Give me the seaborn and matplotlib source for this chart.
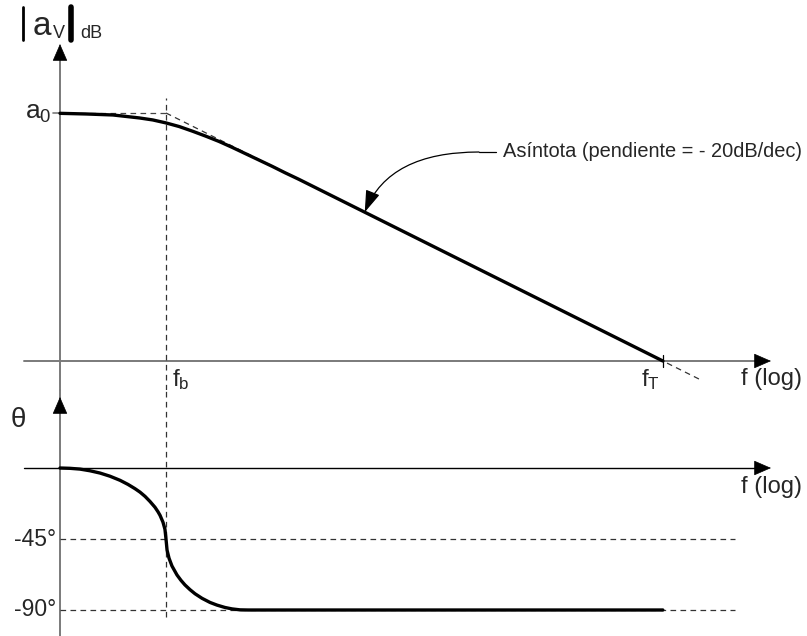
import numpy as np
import matplotlib
matplotlib.use("Agg")
import matplotlib.pyplot as plt
from matplotlib.lines import Line2D
import seaborn as sns

# ---------------- data ----------------
# x axis: log-frequency in decades measured from the break frequency f_b
FB = 0.0           # f_b
FT = 3.75          # f_T (unity-gain frequency)
A0 = 75.0          # a0, low-frequency gain in dB
U_START = -0.8     # left end of the frequency axis (vertical axis position)

mag_u = [-0.8, -0.6, -0.4, -0.2, -0.1, 0.0, 0.1, 0.2, 0.3, 0.4, 0.5,
         0.6, 0.7, 0.8, 0.9, 1.0, 1.2, 3.75]
mag_db = [74.9, 74.7, 74.4, 73.5, 72.9, 72.0, 70.9, 69.5, 68.0, 66.4, 64.6,
          62.7, 60.8, 58.9, 56.9, 55.0, 51.0, 0.0]

asym_u = [0.0, 4.03]
asym_db = [75.0, -5.6]

phase_u = [-0.8, -0.725, -0.649, -0.574, -0.498, -0.423, -0.347, -0.287,
           -0.234, -0.196, -0.158, -0.121, -0.083, -0.060, -0.045, -0.023,
           -0.008, 0.0, 0.008, 0.023, 0.045, 0.083, 0.113, 0.143, 0.181,
           0.219, 0.272, 0.332, 0.385, 0.445, 0.498, 0.558, 0.619, 3.75]
phase_deg = [0.0, -0.2, -0.7, -1.75, -3.2, -5.2, -7.8, -10.4,
             -13.1, -15.3, -18.0, -21.2, -24.9, -27.8, -30.0, -34.3,
             -38.8, -45.0, -52.1, -57.2, -62.1, -67.8, -71.2, -74.1, -77.1,
             -79.7, -82.6, -85.2, -86.9, -88.4, -89.3, -89.9, -90.0, -90.0]

phase_ref = [-45, -90]
phase_ref_labels = ["-45°", "-90°"]

# ---------------- layout (pixel geometry) ----------------
W, H = 807, 636
PX_FB = 166.0
PX_PER_DEC = 132.5
MAG_Y0 = 361.0
PX_PER_DB = 248.0 / 75.0
PH_Y0 = 468.0
PX_PER_DEG = 71.0 / 45.0
SPLIT = 390.0


def u_of(px):
    return (px - PX_FB) / PX_PER_DEC


def db_of(py):
    return (MAG_Y0 - py) / PX_PER_DB


def deg_of(py):
    return (PH_Y0 - py) / PX_PER_DEG


def fx(px):
    return px / W


def fy(py):
    return 1 - py / H


sns.set_style("white")
plt.rcParams["font.family"] = ["Liberation Sans", "DejaVu Sans"]
plt.rcParams["mathtext.fontset"] = "custom"
plt.rcParams["mathtext.rm"] = "Liberation Sans"

fig = plt.figure(figsize=(W / 100, H / 100), dpi=100)
ax1 = fig.add_axes([0, 1 - SPLIT / H, 1, SPLIT / H])
ax2 = fig.add_axes([0, 0, 1, 1 - SPLIT / H])
for ax in (ax1, ax2):
    ax.set_xlim(u_of(0), u_of(W))
    ax.axis("off")
ax1.set_ylim(db_of(SPLIT), db_of(0))
ax2.set_ylim(deg_of(H), deg_of(SPLIT))

AXC = "#7a7a7a"
DASH = (0, (4.5, 3.5))
arrow_style = "-|>,head_length=0.62,head_width=0.27"

# ---------- magnitude panel ----------
ax1.plot([U_START, U_START], [db_of(SPLIT), db_of(50)], color=AXC, lw=1.4,
         clip_on=False, zorder=2)
ax1.annotate("", xy=(U_START, db_of(44)), xytext=(U_START, db_of(58)),
             arrowprops=dict(arrowstyle=arrow_style, color="black", lw=0.5,
                             shrinkA=0, shrinkB=0, mutation_scale=18))
ax1.plot([u_of(24), u_of(757)], [0, 0], color=AXC, lw=1.4, zorder=2)
ax1.annotate("", xy=(u_of(771), 0), xytext=(u_of(755), 0),
             arrowprops=dict(arrowstyle=arrow_style, color="black", lw=0.5,
                             shrinkA=0, shrinkB=0, mutation_scale=18))
ax1.plot([u_of(53), U_START], [A0, A0], color=AXC, lw=1.2, zorder=2)
ax1.plot([FT, FT], [db_of(355), db_of(367)], color="black", lw=0.9, zorder=2)

ax1.plot([U_START, FB], [A0, A0], color="#444444", lw=0.9, ls=DASH, zorder=3)
ax1.plot(asym_u, asym_db, color="#333333", lw=0.9, ls=DASH, zorder=3)
ax1.plot([FB, FB], [db_of(SPLIT), db_of(98)], color="#333333", lw=0.9,
         ls=DASH, zorder=3)

sns.lineplot(x=mag_u, y=mag_db, ax=ax1, color="black", linewidth=2.4,
             sort=False, estimator=None, zorder=5)

# annotation
tgt_u = 1.5
tgt_db = float(np.interp(tgt_u, mag_u, mag_db))
ax1.annotate("", xy=(tgt_u, tgt_db), xytext=(u_of(479), db_of(152)),
             arrowprops=dict(arrowstyle="-|>,head_length=0.75,head_width=0.25",
                             connectionstyle="angle3,angleA=0,angleB=68",
                             color="black", lw=0.9, shrinkA=0, shrinkB=0,
                             mutation_scale=18),
             zorder=6)
ax1.plot([u_of(479), u_of(496)], [db_of(152), db_of(152)], color="black",
         lw=0.9)
fig.text(fx(503), fy(152), "Asíntota (pendiente = - 20dB/dec)", fontsize=14.4,
         ha="left", va="center")

# ---------- phase panel ----------
ax2.plot([U_START, U_START], [deg_of(H), deg_of(SPLIT)], color=AXC, lw=1.4,
         clip_on=False, zorder=2)
ax2.annotate("", xy=(U_START, deg_of(397)), xytext=(U_START, deg_of(411)),
             arrowprops=dict(arrowstyle=arrow_style, color="black", lw=0.5,
                             shrinkA=0, shrinkB=0, mutation_scale=18))
ax2.plot([u_of(24), u_of(757)], [0, 0], color="black", lw=1.0, zorder=2)
ax2.annotate("", xy=(u_of(771), 0), xytext=(u_of(755), 0),
             arrowprops=dict(arrowstyle=arrow_style, color="black", lw=0.5,
                             shrinkA=0, shrinkB=0, mutation_scale=18))
for r in phase_ref:
    ax2.plot([U_START, u_of(735)], [r, r], color="#333333", lw=0.9, ls=DASH,
             zorder=3)
ax2.plot([FB, FB], [deg_of(617), deg_of(SPLIT)], color="#333333", lw=0.9,
         ls=DASH, zorder=3)

sns.lineplot(x=phase_u, y=phase_deg, ax=ax2, color="black", linewidth=2.4,
             sort=False, estimator=None, zorder=5)

# ---------- texts ----------
fig.add_artist(Line2D([fx(22.5), fx(22.5)], [fy(40), fy(7)], color="black",
                      lw=2.0))
fig.add_artist(Line2D([fx(70.5), fx(70.5)], [fy(40), fy(7)], color="black",
                      lw=4.0))
fig.text(fx(33), fy(35), "a", fontsize=24, ha="left", va="baseline")
fig.text(fx(52.5), fy(37.5), "V", fontsize=13, ha="left", va="baseline")
fig.text(fx(80), fy(37.5), "dB", fontsize=13, ha="left", va="baseline")

fig.text(fx(52), fy(113), r"$\mathregular{a_0}$", fontsize=19, ha="right",
         va="center")
fig.text(fx(172), fy(386), r"$\mathregular{f_b}$", fontsize=17.5, ha="left",
         va="baseline")
fig.text(fx(641), fy(386), r"$\mathregular{f_T}$", fontsize=17.5, ha="left",
         va="baseline")
fig.text(fx(741), fy(385), "f (log)", fontsize=17, ha="left", va="baseline")
fig.text(fx(741), fy(493), "f (log)", fontsize=17, ha="left", va="baseline")
fig.text(fx(11), fy(427), "θ", fontsize=20, ha="left", va="baseline")
for r, lab in zip(phase_ref, phase_ref_labels):
    yy = PH_Y0 - r * PX_PER_DEG
    fig.text(fx(56), fy(yy), lab, fontsize=16.5, ha="right", va="center")

fig.savefig("out.png", dpi=100, facecolor="white")
